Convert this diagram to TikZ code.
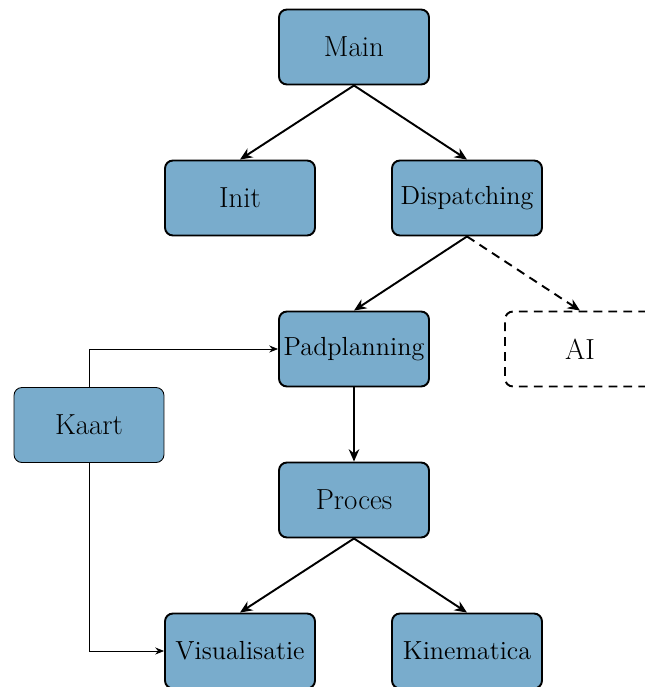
\documentclass[tikz,border=0pt]{standalone}
\usetikzlibrary{arrows.meta}
\definecolor{boxblue}{RGB}{121,172,204}
\tikzset{
  heavy/.style={line width=1.1pt},
  box/.style={draw, heavy, fill=boxblue, rounded corners=4.5pt,
    minimum width=3cm, minimum height=1.5cm, inner sep=2pt, align=center},
  bigtext/.style={font=\fontsize{16.5}{19}\selectfont},
  smalltext/.style={font=\fontsize{14.9}{18}\selectfont},
  longdash/.style={dash pattern=on 5pt off 3.5pt},
  optbox/.style={draw, heavy, longdash, rounded corners=4.5pt,
    minimum width=3cm, minimum height=1.5cm, font=\fontsize{16.5}{19}\selectfont},
  link/.style={heavy, -{Stealth[length=7pt,width=6pt]}},
  optlink/.style={heavy, longdash, -{Stealth[length=7pt,width=6pt]}},
  maplink/.style={line width=0.45pt, -{Stealth[length=5pt,width=4pt]}}
}
\begin{document}
\begin{tikzpicture}[x=0.02cm, y=-0.02cm]
  \path[use as bounding box, clip] (0,0) rectangle (645,687);

  \node[box, bigtext] (main) at (354,47) {Main};
  \node[box, bigtext] (init) at (240,198) {Init};
  \node[box, smalltext] (disp) at (467,198) {Dispatching};
  \node[box, smalltext] (pad) at (354,349) {Padplanning};
  \node[optbox] (ai) at (580,349) {AI};
  \node[box, bigtext, line width=0.5pt] (kaart) at (89,425) {Kaart};
  \node[box, bigtext] (proc) at (354,500) {Proces};
  \node[box, smalltext] (vis) at (240,651) {Visualisatie};
  \node[box, smalltext] (kin) at (467,651) {Kinematica};

  \draw[link] (main.south) -- (init.north);
  \draw[link] (main.south) -- (disp.north);
  \draw[link] (disp.south) -- (pad.north);
  \draw[optlink] (disp.south) -- (ai.north);
  \draw[link] (pad.south) -- (proc.north);
  \draw[link] (proc.south) -- (vis.north);
  \draw[link] (proc.south) -- (kin.north);

  \draw[maplink] (kaart.north) |- (pad.west);
  \draw[maplink] (kaart.south) |- (vis.west);
\end{tikzpicture}
\end{document}
